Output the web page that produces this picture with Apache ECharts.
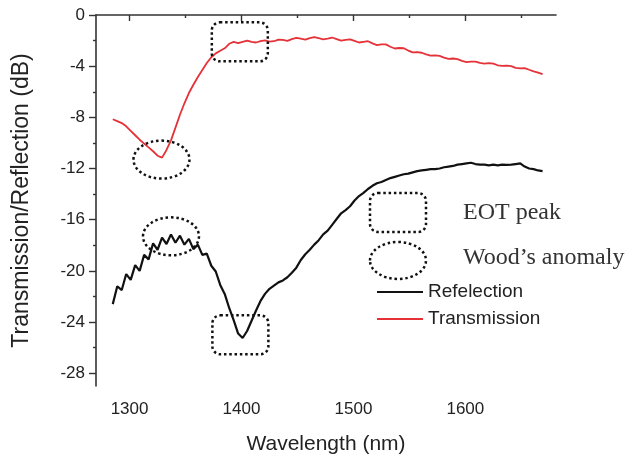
<!DOCTYPE html>
<html><head><meta charset="utf-8">
<script src="https://cdn.jsdelivr.net/npm/echarts@6/dist/echarts.min.js"></script>
<style>html,body{margin:0;padding:0;background:#fff}#c{width:636px;height:463px}</style>
</head><body><div id="c"></div>
<script>
const wavelength = [1285,1289,1293,1297,1301,1305,1309,1313,1317,1321,1325,1329,1333,1337,1341,1345,1349,1353,1357,1361,1365,1369,1373,1377,1381,1385,1389,1393,1397,1401,1405,1409,1413,1417,1421,1425,1429,1433,1437,1441,1445,1449,1453,1457,1461,1465,1469,1473,1477,1481,1485,1489,1493,1497,1501,1505,1509,1513,1517,1521,1525,1529,1533,1537,1541,1545,1549,1553,1557,1561,1565,1569,1573,1577,1581,1585,1589,1593,1597,1601,1605,1609,1613,1617,1621,1625,1629,1633,1637,1641,1645,1649,1653,1657,1661,1665,1669];
const transmission = [-8.15,-8.3,-8.45,-8.7,-9.05,-9.4,-9.75,-10.05,-10.35,-10.65,-11.0,-11.15,-10.55,-9.8,-8.8,-7.8,-6.9,-6.1,-5.45,-4.85,-4.3,-3.75,-3.3,-3.0,-2.8,-2.6,-2.25,-2.1,-2.2,-2.1,-2.0,-2.1,-2.15,-2.05,-1.98,-2.08,-2.05,-1.92,-1.95,-2.02,-1.88,-1.78,-1.85,-1.92,-1.8,-1.72,-1.8,-1.9,-1.85,-1.76,-1.88,-2.0,-1.95,-1.9,-2.02,-2.15,-2.1,-2.05,-2.22,-2.35,-2.3,-2.3,-2.48,-2.62,-2.58,-2.6,-2.78,-2.92,-2.9,-2.95,-3.08,-3.18,-3.15,-3.2,-3.33,-3.43,-3.4,-3.45,-3.58,-3.68,-3.65,-3.65,-3.75,-3.8,-3.76,-3.8,-3.93,-3.98,-3.95,-4.0,-4.13,-4.18,-4.15,-4.28,-4.4,-4.5,-4.62];
const reflection = [-22.6,-21.2,-21.5,-20.25,-20.7,-19.55,-20.0,-18.75,-19.1,-17.85,-18.35,-17.4,-17.9,-17.15,-17.8,-17.25,-17.95,-17.5,-18.3,-17.95,-18.75,-18.65,-19.6,-20.05,-21.1,-21.8,-22.9,-23.85,-24.9,-25.25,-24.7,-23.9,-23.1,-22.35,-21.8,-21.4,-21.15,-20.9,-20.75,-20.5,-20.15,-19.75,-19.15,-18.7,-18.35,-17.95,-17.6,-17.15,-16.85,-16.4,-15.95,-15.5,-15.25,-14.95,-14.5,-14.15,-13.9,-13.6,-13.35,-13.15,-13.05,-12.9,-12.75,-12.65,-12.55,-12.45,-12.4,-12.3,-12.2,-12.15,-12.1,-12.05,-12.05,-12.0,-11.9,-11.85,-11.8,-11.7,-11.65,-11.6,-11.55,-11.65,-11.7,-11.7,-11.75,-11.7,-11.75,-11.7,-11.72,-11.7,-11.65,-11.6,-11.85,-12.0,-12.05,-12.15,-12.2];
const xTickValues = [1300,1400,1500,1600];
const xMinorTickValues = [1350,1450,1550,1650];
const yTickValues = [0,-4,-8,-12,-16,-20,-24,-28];
const yMinorTickValues = [-2,-6,-10,-14,-18,-22,-26];
const eotBoxes = [[1398.5,-2.1],[1399,-25.0]];
const woodEllipses = [[1328.5,-11.3],[1337,-17.3]];
const noteLabels = ['EOT peak','Wood\u2019s anomaly'];
const seriesNames = ['Refelection','Transmission'];

const sans = '"Liberation Sans", Arial, sans-serif';
const serif = '"Liberation Serif", "Times New Roman", serif';
const axisColor = '#333';
const textColor = '#222';
const dot = {fill:'none', stroke:'#111', lineWidth:2.5, lineDash:[2.5,2.8]};

const chart = echarts.init(document.getElementById('c'), null, {renderer:'canvas'});
const xBase = {type:'value', min:1270, max:1681, splitLine:{show:false}};
const yBase = {type:'value', min:-29, max:0, splitLine:{show:false}};
chart.setOption({
  animation:false,
  backgroundColor:'#fff',
  grid:{left:96, right:80, top:15, bottom:77},
  legend:{
    data:seriesNames.map(n=>({name:n, icon:'rect'})), orient:'vertical', left:377, top:282, padding:0,
    itemWidth:46, itemHeight:2, itemGap:7,
    textStyle:{fontFamily:sans, fontSize:19, color:textColor, lineHeight:20}
  },
  xAxis:[
    Object.assign({}, xBase, {
      position:'bottom',
      name:'Wavelength (nm)', nameLocation:'middle', nameGap:48,
      nameTextStyle:{fontFamily:sans, fontSize:21, color:textColor},
      axisLine:{lineStyle:{color:axisColor, width:1.6}},
      axisTick:{customValues:xTickValues, length:6, inside:false, lineStyle:{color:axisColor, width:1.4}},
      axisLabel:{customValues:xTickValues, margin:15, fontFamily:sans, fontSize:17, color:textColor, formatter:v=>String(v)}
    }),
    Object.assign({}, xBase, {
      position:'bottom',
      axisLine:{show:false},
      axisTick:{customValues:xMinorTickValues, length:3, lineStyle:{color:axisColor, width:1.4}},
      axisLabel:{show:false}
    })
  ],
  yAxis:[
    Object.assign({}, yBase, {
      position:'left',
      name:'Transmission/Reflection (dB)', nameLocation:'middle', nameGap:63,
      nameTextStyle:{fontFamily:sans, fontSize:23, color:textColor},
      axisLine:{show:true, lineStyle:{color:axisColor, width:1.6}},
      axisTick:{show:true, customValues:yTickValues, length:7, lineStyle:{color:axisColor, width:1.4}},
      axisLabel:{customValues:yTickValues, margin:11, fontFamily:sans, fontSize:17, color:textColor, formatter:v=>String(v)}
    }),
    Object.assign({}, yBase, {
      position:'left',
      axisLine:{show:false},
      axisTick:{show:true, customValues:yMinorTickValues, length:3, lineStyle:{color:axisColor, width:1.4}},
      axisLabel:{show:false}
    })
  ],
  series:[
    {name:seriesNames[0], type:'line', symbol:'none', xAxisIndex:0, yAxisIndex:0,
     data:wavelength.map((w,i)=>[w, reflection[i]]),
     lineStyle:{color:'#111', width:2.2}, itemStyle:{color:'#111'}},
    {name:seriesNames[1], type:'line', symbol:'none', xAxisIndex:0, yAxisIndex:0,
     data:wavelength.map((w,i)=>[w, transmission[i]]),
     lineStyle:{color:'#e53238', width:1.8}, itemStyle:{color:'#e53238'}}
  ]
});

const g = [];
eotBoxes.forEach(p=>{
  const [px,py] = chart.convertToPixel({xAxisIndex:0, yAxisIndex:0}, p);
  g.push({type:'rect', shape:{x:px-28, y:py-19.5, width:56, height:39, r:8}, style:dot, z:10});
});
woodEllipses.forEach(p=>{
  const [px,py] = chart.convertToPixel({xAxisIndex:0, yAxisIndex:0}, p);
  g.push({type:'ellipse', shape:{cx:px, cy:py, rx:28, ry:19}, style:dot, z:10});
});
g.push({type:'rect', shape:{x:370, y:193, width:56, height:39, r:8}, style:dot, z:10});
g.push({type:'ellipse', shape:{cx:398, cy:260.5, rx:28, ry:18.5}, style:dot, z:10});
g.push({type:'text', left:463, top:201, style:{text:noteLabels[0], font:'24px '+serif, fill:'#333'}, z:10});
g.push({type:'text', left:463, top:246, style:{text:noteLabels[1], font:'24px '+serif, fill:'#333'}, z:10});
chart.setOption({graphic:g});
</script></body></html>
